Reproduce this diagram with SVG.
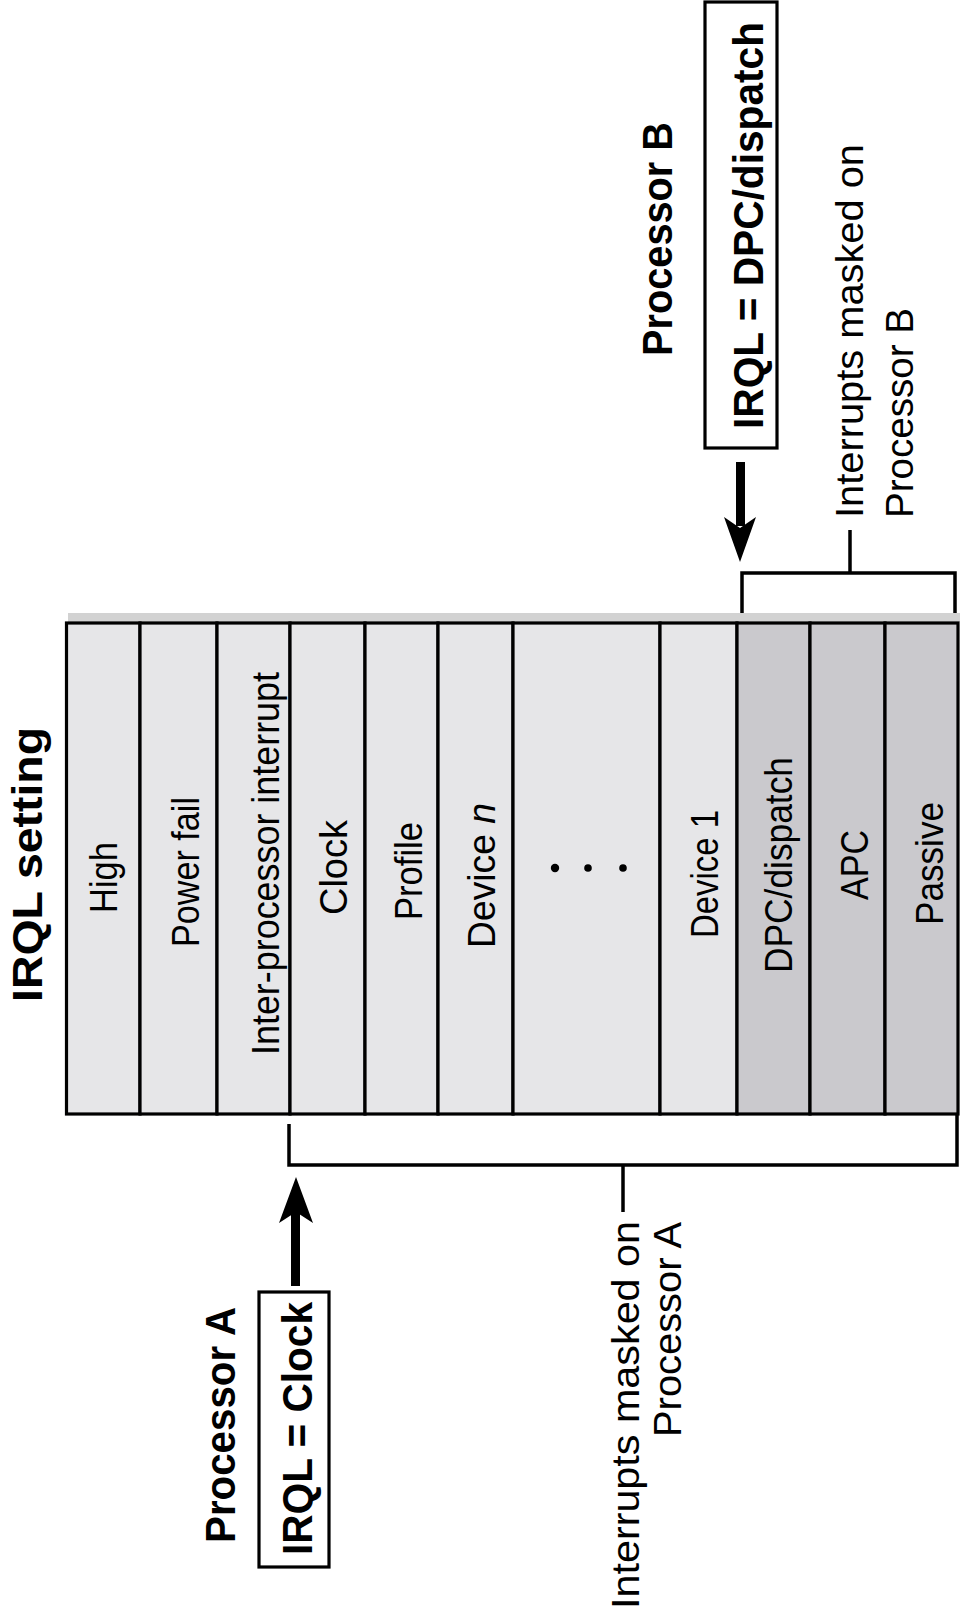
<svg xmlns="http://www.w3.org/2000/svg" width="960" height="1616" viewBox="0 0 960 1616">
<style>
.col{stroke:#000;stroke-width:3.2}
.lt{fill:#e6e6e8}
.dk{fill:#cac9cd}
.lbl{font-family:"Liberation Sans",Arial,sans-serif;font-size:38px;fill:#000}
.b{font-family:"Liberation Sans",Arial,sans-serif;font-weight:bold;font-size:42px;fill:#000}
.br{fill:none;stroke:#000;stroke-width:3.5}
.box{fill:#fff;stroke:#000;stroke-width:3.2}
</style>
<rect width="960" height="1616" fill="#fff"/>
<g id="title">
<text class="b" font-size="44" text-anchor="middle" textLength="275" lengthAdjust="spacingAndGlyphs" transform="translate(42,864.5) rotate(-90)">IRQL setting</text>
</g>
<rect x="68" y="613" width="892" height="9" fill="#d2d2d2"/>
<g id="table">
<g id="high"><rect class="col lt" x="66.5" y="623" width="73.5" height="491"/>
<text class="lbl" text-anchor="middle" textLength="71" lengthAdjust="spacingAndGlyphs" transform="translate(117,877.5) rotate(-90)">High</text></g>
<g id="powerfail"><rect class="col lt" x="140" y="623" width="77" height="491"/>
<text class="lbl" text-anchor="middle" textLength="150" lengthAdjust="spacingAndGlyphs" transform="translate(199,872) rotate(-90)">Power fail</text></g>
<g id="ipi"><rect class="col lt" x="217" y="623" width="73" height="491"/>
<text class="lbl" text-anchor="middle" textLength="383" lengthAdjust="spacingAndGlyphs" transform="translate(279,863.5) rotate(-90)">Inter-processor interrupt</text></g>
<g id="clock"><rect class="col lt" x="290" y="623" width="75" height="491"/>
<text class="lbl" text-anchor="middle" textLength="95" lengthAdjust="spacingAndGlyphs" transform="translate(347,867.5) rotate(-90)">Clock</text></g>
<g id="profile"><rect class="col lt" x="365" y="623" width="73" height="491"/>
<text class="lbl" text-anchor="middle" textLength="98" lengthAdjust="spacingAndGlyphs" transform="translate(422,871) rotate(-90)">Profile</text></g>
<g id="devicen"><rect class="col lt" x="438" y="623" width="75" height="491"/>
<text class="lbl" text-anchor="middle" textLength="145" lengthAdjust="spacingAndGlyphs" transform="translate(495,875.5) rotate(-90)">Device <tspan font-style="italic">n</tspan></text></g>
<g id="dots"><rect class="col lt" x="513" y="623" width="147" height="491"/>
<circle cx="555" cy="868" r="4.2" fill="#000"/><circle cx="588" cy="868" r="3.8" fill="#000"/><circle cx="623" cy="868" r="3.8" fill="#000"/></g>
<g id="device1"><rect class="col lt" x="660" y="623" width="77" height="491"/>
<text class="lbl" text-anchor="middle" textLength="128" lengthAdjust="spacingAndGlyphs" transform="translate(718,874) rotate(-90)">Device 1</text></g>
<g id="dpc"><rect class="col dk" x="737" y="623" width="73" height="491"/>
<text class="lbl" text-anchor="middle" textLength="216" lengthAdjust="spacingAndGlyphs" transform="translate(792,865) rotate(-90)">DPC/dispatch</text></g>
<g id="apc"><rect class="col dk" x="810" y="623" width="75" height="491"/>
<text class="lbl" text-anchor="middle" textLength="70" lengthAdjust="spacingAndGlyphs" transform="translate(868,865) rotate(-90)">APC</text></g>
<g id="passive"><rect class="col dk" x="885" y="623" width="73" height="491"/>
<text class="lbl" text-anchor="middle" textLength="123" lengthAdjust="spacingAndGlyphs" transform="translate(943,863.5) rotate(-90)">Passive</text></g>
</g>
<g id="procA">
<text class="b" text-anchor="middle" textLength="236" lengthAdjust="spacingAndGlyphs" transform="translate(235,1425) rotate(-90)">Processor A</text>
<rect class="box" x="259" y="1292" width="70" height="275"/>
<text class="b" text-anchor="middle" textLength="253" lengthAdjust="spacingAndGlyphs" transform="translate(312,1428.5) rotate(-90)">IRQL = Clock</text>
</g>
<g id="procB">
<text class="b" text-anchor="middle" textLength="234" lengthAdjust="spacingAndGlyphs" transform="translate(672,239) rotate(-90)">Processor B</text>
<rect class="box" x="705" y="2" width="72" height="446"/>
<text class="b" text-anchor="middle" textLength="407" lengthAdjust="spacingAndGlyphs" transform="translate(763,225.5) rotate(-90)">IRQL = DPC/dispatch</text>
</g>
<g id="maskA">
<text class="lbl" font-size="40" text-anchor="end" textLength="388" lengthAdjust="spacingAndGlyphs" transform="translate(639,1221) rotate(-90)">Interrupts masked on</text>
<text class="lbl" font-size="40" text-anchor="end" textLength="215" lengthAdjust="spacingAndGlyphs" transform="translate(681,1222) rotate(-90)">Processor A</text>
</g>
<g id="maskB">
<text class="lbl" font-size="40" text-anchor="start" textLength="374" lengthAdjust="spacingAndGlyphs" transform="translate(863,518) rotate(-90)">Interrupts masked on</text>
<text class="lbl" font-size="40" text-anchor="start" textLength="210" lengthAdjust="spacingAndGlyphs" transform="translate(913,518) rotate(-90)">Processor B</text>
</g>
<g id="connectors">
<path class="br" d="M289,1124 V1165 H957 V1114"/>
<path class="br" d="M623,1165 V1212"/>
<path class="br" d="M742,613 V573 H955 V613"/>
<path class="br" d="M850,573 V530"/>
<rect x="291" y="1208" width="9" height="78" fill="#000"/>
<polygon points="296,1177 313,1223 296,1212 279,1223" fill="#000"/>
<rect x="736" y="462" width="9" height="64" fill="#000"/>
<polygon points="740,562 756,517 740,528 724,517" fill="#000"/>
</g>
</svg>
